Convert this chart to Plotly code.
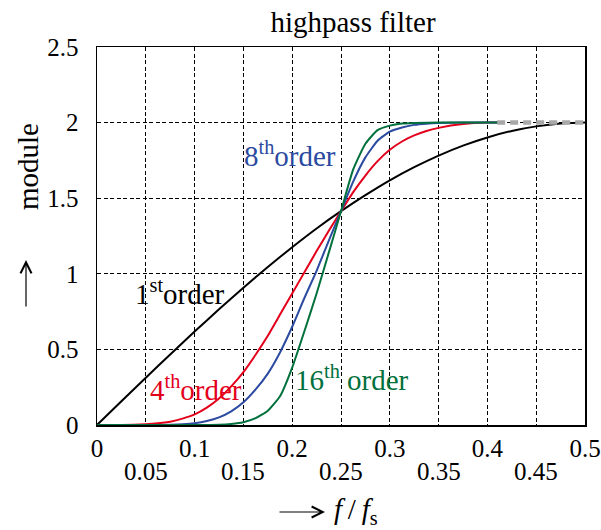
import plotly.graph_objects as go

# ---------------- data ----------------
f_1st = [0, 0.025, 0.05, 0.075, 0.1, 0.125, 0.15, 0.175, 0.2, 0.225, 0.25,
         0.275, 0.3, 0.325, 0.35, 0.375, 0.4, 0.425, 0.45, 0.475, 0.5]
v_1st = [0, 0.157, 0.313, 0.466, 0.618, 0.765, 0.908, 1.045, 1.176, 1.30, 1.414,
         1.52, 1.618, 1.705, 1.782, 1.848, 1.902, 1.945, 1.975, 1.994, 2.0]

f_4th = [0, 0.025, 0.05, 0.0625, 0.075, 0.0875, 0.1, 0.1125, 0.125, 0.1375, 0.15,
         0.1625, 0.175, 0.1875, 0.2, 0.2125, 0.225, 0.2375, 0.25, 0.2625, 0.275,
         0.2875, 0.3, 0.3125, 0.325, 0.3375, 0.35, 0.375, 0.4, 0.415]
v_4th = [0, 0, 0.005, 0.011, 0.022, 0.042, 0.07, 0.115, 0.175, 0.255, 0.35,
         0.465, 0.59, 0.73, 0.87, 1.01, 1.15, 1.285, 1.414, 1.54, 1.65,
         1.745, 1.82, 1.875, 1.915, 1.945, 1.965, 1.99, 2.0, 2.0]

f_8th = [0, 0.05, 0.075, 0.0875, 0.1, 0.1125, 0.125, 0.1375, 0.15, 0.1625, 0.175,
         0.1875, 0.2, 0.2125, 0.225, 0.2375, 0.25, 0.2625, 0.275, 0.2875, 0.3,
         0.3125, 0.325, 0.3375, 0.35, 0.375, 0.415]
v_8th = [0, 0, 0.002, 0.005, 0.012, 0.026, 0.05, 0.09, 0.15, 0.235, 0.34,
         0.48, 0.65, 0.84, 1.02, 1.22, 1.414, 1.61, 1.77, 1.88, 1.94,
         1.968, 1.985, 1.993, 1.997, 2.0, 2.0]

f_16th = [0, 0.1, 0.125, 0.1375, 0.15, 0.1625, 0.175, 0.1875, 0.2, 0.2125, 0.225,
          0.2375, 0.25, 0.2625, 0.275, 0.2875, 0.3, 0.3125, 0.325, 0.35, 0.415]
v_16th = [0, 0, 0.002, 0.007, 0.018, 0.045, 0.095, 0.19, 0.38, 0.62, 0.87,
          1.14, 1.414, 1.69, 1.86, 1.95, 1.98, 1.994, 1.998, 2.0, 2.0]

f_tail = [0.41, 0.5]
v_tail = [2.0, 2.0]

x_ticks_row1 = [0, 0.1, 0.2, 0.3, 0.4, 0.5]
x_labels_row1 = ["0", "0.1", "0.2", "0.3", "0.4", "0.5"]
x_ticks_row2 = [0.05, 0.15, 0.25, 0.35, 0.45]
x_labels_row2 = ["0.05", "0.15", "0.25", "0.35", "0.45"]
y_ticks = [0, 0.5, 1, 1.5, 2, 2.5]
y_labels = ["0", "0.5", "1", "1.5", "2", "2.5"]

# ---------------- styling ----------------
FONT = "Liberation Serif"
BLACK = "#000000"
RED = "#e3001b"
BLUE = "#2b4aa0"
GREEN = "#00703c"
GRAY = "#a8a8a8"

fig = go.Figure()

def curve(x, y, color):
    fig.add_trace(go.Scatter(x=x, y=y, mode="lines",
                             line=dict(color=color, width=2, shape="spline", smoothing=0.5),
                             showlegend=False, hoverinfo="skip"))

curve(f_1st, v_1st, BLACK)
curve(f_4th, v_4th, RED)
curve(f_8th, v_8th, BLUE)
curve(f_16th, v_16th, GREEN)
fig.add_trace(go.Scatter(x=f_tail, y=v_tail, mode="lines",
                         line=dict(color=GRAY, width=4.5, dash="8px,5px"),
                         showlegend=False, hoverinfo="skip"))

all_x_ticks = sorted(x_ticks_row1 + x_ticks_row2)
all_x_text = [x_labels_row1[x_ticks_row1.index(v)] if v in x_ticks_row1 else ""
              for v in all_x_ticks]

fig.update_xaxes(range=[0, 0.5], tickmode="array", tickvals=all_x_ticks, ticktext=all_x_text,
                 showgrid=True, gridcolor=BLACK, gridwidth=1, griddash="4px,2.5px",
                 showline=True, linecolor=BLACK, linewidth=1.5, mirror=True,
                 zeroline=False, ticks="", automargin=False,
                 tickfont=dict(family=FONT, size=25, color=BLACK))
fig.update_yaxes(range=[0, 2.5], tickmode="array", tickvals=y_ticks, ticktext=y_labels,
                 showgrid=True, gridcolor=BLACK, gridwidth=1, griddash="4px,2.5px",
                 showline=True, linecolor=BLACK, linewidth=1.5, mirror=True,
                 zeroline=False, ticks="", ticklabelstandoff=12, automargin=False,
                 tickfont=dict(family=FONT, size=25, color=BLACK))

W, H = 601, 530
L, R, T, B = 97, 16, 47, 105
pw, ph = W - L - R, H - T - B

def px(xp):
    return (xp - L) / pw

def py(yp):
    return (H - B - yp) / ph

def A(**kw):
    d = dict(showarrow=False, xanchor="center", yanchor="middle")
    d.update(kw)
    return d

def ARROW(xh, yh, dx, dy):
    return dict(x=px(xh), y=py(yh), xref="paper", yref="paper", text="",
                showarrow=True, ax=dx, ay=dy, axref="pixel", ayref="pixel",
                arrowhead=5, arrowsize=1.8, arrowwidth=1.2, arrowcolor=BLACK,
                standoff=0, startstandoff=0)

ann = []
for v, t in zip(x_ticks_row2, x_labels_row2):
    ann.append(A(x=v, xref="x", y=py(471), yref="paper", text=t,
                 font=dict(family=FONT, size=25, color=BLACK)))

ann += [
    A(x=px(28), y=py(167), xref="paper", yref="paper", text="module", textangle=-90,
      font=dict(family=FONT, size=29, color=BLACK)),
    ARROW(26, 260, 0, 48),
    ARROW(325, 512, -47, 0),
    A(x=px(356), y=py(511), xref="paper", yref="paper",
      text="<i>f</i>\u2009/\u2009<i>f</i><sub>s</sub>",
      font=dict(family=FONT, size=29, color=BLACK)),
    A(x=0.085, y=0.88, xref="x", yref="y", text="1<sup>st</sup>order",
      font=dict(family=FONT, size=29, color=BLACK)),
    A(x=0.101, y=0.245, xref="x", yref="y", text="4<sup>th</sup>order",
      font=dict(family=FONT, size=29, color=RED)),
    A(x=0.198, y=1.79, xref="x", yref="y", text="8<sup>th</sup>order",
      font=dict(family=FONT, size=29, color=BLUE)),
    A(x=0.261, y=0.31, xref="x", yref="y", text="16<sup>th</sup> order",
      font=dict(family=FONT, size=29, color=GREEN)),
]

fig.update_layout(
    width=W, height=H,
    margin=dict(l=L, r=R, t=T, b=B, autoexpand=False),
    paper_bgcolor="white", plot_bgcolor="white",
    title=dict(text="highpass filter", x=353 / W, xanchor="center",
               y=1 - 22 / H, yanchor="middle", yref="container",
               font=dict(family=FONT, size=29, color=BLACK)),
    annotations=ann,
    showlegend=False,
)

fig.write_html("out.html", config={"displayModeBar": False, "staticPlot": True},
               post_script="document.body.style.margin='0';document.body.style.padding='0';")
